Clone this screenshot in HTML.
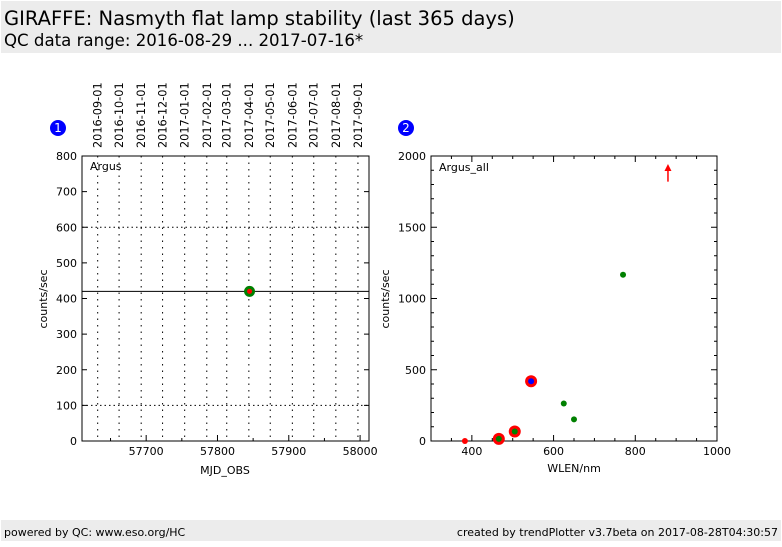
<!DOCTYPE html>
<html><head><meta charset="utf-8"><style>
body{margin:0;background:#fff;font-family:"Liberation Sans",sans-serif;}
svg text{font-family:"DejaVu Sans","Liberation Sans",sans-serif;}
</style></head><body>
<svg id="s" width="782" height="542" xmlns="http://www.w3.org/2000/svg">
<rect x="1" y="1" width="780" height="52" fill="#ececec"/>
<text x="4" y="25" font-size="19.5">GIRAFFE: Nasmyth flat lamp stability (last 365 days)</text>
<text x="4" y="46" font-size="16.6">QC data range: 2016-08-29 ... 2017-07-16*</text>
<rect x="1" y="520" width="780" height="21" fill="#ececec"/>
<text x="4" y="536" font-size="11">powered by QC: www.eso.org/HC</text>
<text x="778" y="536" font-size="11" text-anchor="end">created by trendPlotter v3.7beta on 2017-08-28T04:30:57</text>
<g id="p1"></g>
<g id="p2"></g>
</svg>
<script>
const months=["2016-09-01","2016-10-01","2016-11-01","2016-12-01","2017-01-01","2017-02-01","2017-03-01","2017-04-01","2017-05-01","2017-06-01","2017-07-01","2017-08-01","2017-09-01"];
const monthMjd=[57632,57662,57693,57723,57754,57785,57813,57844,57874,57905,57935,57966,57997];
const xTicks1=[57700,57800,57900,58000];
const yTicks1=[0,100,200,300,400,500,600,700,800];
const p1Mjd=[57845];
const p1Val=[420];
const p1Avg=420, p1Lo=100, p1Hi=600;
const wlen=[383,466,505,545,625,650,770];
const wlenVal=[0,15,67,419,263,152,1167];
const wlenType=["red","redgreen","redgreen","redblue","green","green","green"];
const arrowX=880, arrowY0=1820, arrowY1=1930;
const xTicks2=[400,600,800,1000];
const yTicks2=[0,500,1000,1500,2000];
const NS="http://www.w3.org/2000/svg";
function mk(p,t,a,name){const e=document.createElementNS(NS,t);for(const k in a)e.setAttribute(k,a[k]);


p.appendChild(e);return e;}
function txt(p,x,y,s,fs,anchor,name,rot){const e=mk(p,'text',{x:x,y:y,'font-size':fs,'text-anchor':anchor||'start'},name);if(rot)e.setAttribute('transform',`rotate(-90 ${x} ${y})`);e.textContent=s;return e;}
const g1=document.getElementById('p1'),g2=document.getElementById('p2');
// plot 1
const L1=82,R1=369,T=156,B=441;
const XMIN1=57610, XMAX1=58012.5;
const x1=v=>L1+(v-XMIN1)/(XMAX1-XMIN1)*(R1-L1);
const y1=v=>B-v/800*(B-T);
monthMjd.forEach((m,i)=>{const x=x1(m);mk(g1,'line',{x1:x,x2:x,y1:T,y2:B,stroke:'#000','stroke-dasharray':'1.5,5'},'month-gridline');
txt(g1,x+4,148,months[i],11.3,'start','month-label',true);});
[p1Lo,p1Hi].forEach(v=>mk(g1,'line',{x1:L1,x2:R1,y1:y1(v),y2:y1(v),stroke:'#000','stroke-dasharray':'1.5,3'},'limit-line'));
mk(g1,'line',{x1:L1,x2:R1,y1:y1(p1Avg),y2:y1(p1Avg),stroke:'#000'},'average-line');
mk(g1,'rect',{x:L1,y:T,width:R1-L1,height:B-T,fill:'none',stroke:'#000'},'plot-frame');
yTicks1.forEach(v=>{const y=y1(v);mk(g1,'line',{x1:L1,x2:L1+5,y1:y,y2:y,stroke:'#000'},'y-tick');mk(g1,'line',{x1:R1-5,x2:R1,y1:y,y2:y,stroke:'#000'},'y-tick');
txt(g1,L1-5,y+4,String(v),11,'end','y-tick-label');});
for(let v=57650;v<=58000;v+=50){const x=x1(v),l=v%100==0?6:3;mk(g1,'line',{x1:x,x2:x,y1:B,y2:B-l,stroke:'#000'},'x-tick');}
xTicks1.forEach(v=>{const x=x1(v);txt(g1,x,455,String(v),11,'middle','x-tick-label');});
p1Mjd.forEach((m,i)=>{mk(g1,'circle',{cx:x1(m),cy:y1(p1Val[i]),r:5.5,fill:'#008000'},'data-point');mk(g1,'circle',{cx:x1(m),cy:y1(p1Val[i]),r:2.5,fill:'#f00'},'data-point-center');});
txt(g1,90,170,'Argus',11,'start','panel-label');
txt(g1,225,474,'MJD_OBS',11,'middle','x-axis-title');
txt(g1,47,299,'counts/sec',11,'middle','y-axis-title',true);
mk(g1,'circle',{cx:58,cy:128,r:8,fill:'#00f'},'badge-1');txt(g1,58,132,'1',12,'middle','badge-1-label').setAttribute('fill','#fff');
// plot 2
const L2=431,R2=717;
const x2=v=>L2+(v-300)/700*(R2-L2);
const y2=v=>B-v/2000*(B-T);
mk(g2,'rect',{x:L2,y:T,width:R2-L2,height:B-T,fill:'none',stroke:'#000'},'plot-frame');
for(let v=0;v<=2000;v+=100){const y=y2(v),l=v%500==0?6:3;mk(g2,'line',{x1:L2,x2:L2+l,y1:y,y2:y,stroke:'#000'},'y-tick');mk(g2,'line',{x1:R2-l,x2:R2,y1:y,y2:y,stroke:'#000'},'y-tick');}
for(let v=300;v<=1000;v+=50){const x=x2(v),l=v%200==0?6:3;mk(g2,'line',{x1:x,x2:x,y1:B,y2:B-l,stroke:'#000'},'x-tick');mk(g2,'line',{x1:x,x2:x,y1:T,y2:T+l,stroke:'#000'},'x-tick');}
yTicks2.forEach(v=>txt(g2,L2-5,y2(v)+4,String(v),11,'end','y-tick-label'));
xTicks2.forEach(v=>txt(g2,x2(v),455,String(v),11,'middle','x-tick-label'));
wlen.forEach((w,i)=>{const cx=x2(w),cy=y2(wlenVal[i]),t=wlenType[i];
if(t=="red")mk(g2,'circle',{cx:cx,cy:cy,r:3,fill:'#f00'},'data-point');
else if(t=="green")mk(g2,'circle',{cx:cx,cy:cy,r:3,fill:'#008000'},'data-point');
else{mk(g2,'circle',{cx:cx,cy:cy,r:6,fill:'#f00'},'data-point');mk(g2,'circle',{cx:cx,cy:cy,r:3,fill:t=="redblue"?'#00f':'#008000'},'data-point-center');}});
mk(g2,'line',{x1:x2(arrowX),x2:x2(arrowX),y1:y2(arrowY0),y2:y2(arrowY1)+4,stroke:'#f00','stroke-width':1.5},'out-of-range-arrow');
mk(g2,'polygon',{points:`${x2(arrowX)-3.5},${y2(arrowY1)+5} ${x2(arrowX)+3.5},${y2(arrowY1)+5} ${x2(arrowX)},${y2(arrowY1)-2}`,fill:'#f00'},'arrow-head');
txt(g2,439,171,'Argus_all',11,'start','panel-label');
txt(g2,574,472,'WLEN/nm',11,'middle','x-axis-title');
txt(g2,389,299,'counts/sec',11,'middle','y-axis-title',true);
mk(g2,'circle',{cx:406,cy:128,r:8,fill:'#00f'},'badge-2');txt(g2,406,132,'2',12,'middle','badge-2-label').setAttribute('fill','#fff');
</script>
</body></html>
